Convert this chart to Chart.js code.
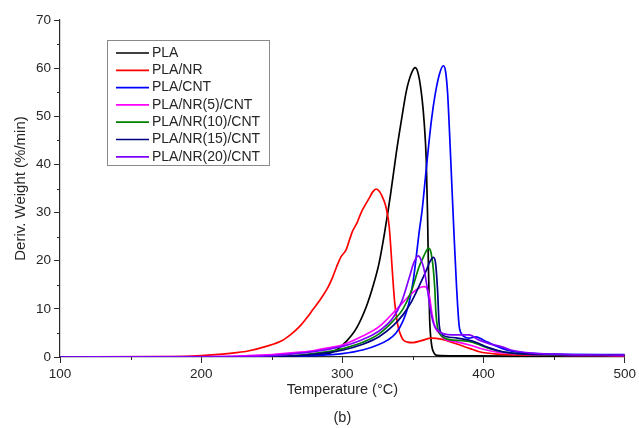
<!DOCTYPE html>
<html lang="en">
<head>
  <meta charset="UTF-8" />
  <title>DTG curves</title>
  <script src="https://cdn.jsdelivr.net/npm/chart.js"></script>
  <style>
    html, body {
      margin: 0;
      padding: 0;
      background: #ffffff;
    }
    #wrap {
      width: 639px;
      height: 428px;
    }
  </style>
</head>
<body>
  <div id="wrap">
    <canvas id="dtgChart" width="639" height="428"></canvas>
  </div>

  <script>
    // sample names, in legend order
    const seriesNames = ["PLA", "PLA/NR", "PLA/CNT", "PLA/NR(5)/CNT", "PLA/NR(10)/CNT", "PLA/NR(15)/CNT", "PLA/NR(20)/CNT"];
    const seriesColors = ["#000000", "#ff0000", "#0000ff", "#ff00ff", "#008000", "#000080", "#8000ff"];

    // axis ticks
    const xTicks = [100, 200, 300, 400, 500];
    const yTicks = [0, 10, 20, 30, 40, 50, 60, 70];

    // temperature (°C) and derivative weight (%/min) for each sample
    const tPLA = [100, 200, 250, 270, 282, 290, 296, 303, 310, 317, 322, 326, 330, 334, 338, 342, 345.5, 349, 351.6, 354, 356.5, 358, 359.4, 360.3, 361, 361.8, 363, 365, 367, 380, 420, 500];
    const dPLA = [0, 0.05, 0.1, 0.2, 0.35, 0.7, 1.5, 3.3, 6, 10.5, 15, 19.5, 26, 33.5, 42, 49.5, 55.5, 59, 60.1, 58.5, 53.5, 48.5, 41, 30, 18, 8, 3, 0.8, 0.35, 0.25, 0.2, 0.2];

    const tNR = [100, 180, 200, 215, 225, 234, 246, 257.8, 264, 269.6, 275, 279, 284, 289.5, 293, 296, 299, 302.7, 305, 307, 310.6, 313, 316, 319, 321.5, 324, 326.5, 329, 331, 333.2, 335.5, 337, 339, 341, 343, 346, 350, 356, 363, 370, 380, 390, 397, 410, 430, 500];
    const dNR = [0, 0.1, 0.3, 0.6, 0.9, 1.3, 2.2, 3.5, 4.8, 6.3, 8.2, 9.8, 11.8, 14.3, 16.5, 18.8, 20.8, 22.3, 24.3, 26, 28, 29.8, 31.5, 33, 34.3, 34.9, 34.3, 32.8, 31, 27, 17.4, 11.5, 7, 4.8, 3.6, 3.1, 3, 3.4, 3.9, 3.7, 2.8, 1.8, 1.1, 0.6, 0.4, 0.3];

    const tCNT = [100, 250, 280, 300, 315, 325, 332, 338, 343, 347, 350, 352, 354.4, 356.5, 359.4, 363, 366, 369, 371.4, 373, 374.5, 376, 377.5, 379, 380.8, 382.7, 384, 386, 389.8, 394.5, 400, 407, 413, 420, 430, 450, 500];
    const dCNT = [0, 0.05, 0.3, 0.7, 1.5, 2.5, 3.5, 5, 7.5, 11, 15.5, 20, 26, 30.5, 39, 49, 55, 59, 60.5, 59.5, 55, 46, 36, 26, 15, 6.5, 5, 4.3, 3.9, 4.2, 3.5, 2.5, 1.8, 1.2, 0.8, 0.6, 0.5];

    const tNR5 = [100, 200, 230, 250, 270, 281, 290, 300, 314, 326, 338, 345, 349.6, 354, 358, 360, 361.5, 363.8, 366, 368.5, 372, 380, 390, 400, 410, 425, 450, 500];
    const dNR5 = [0, 0.05, 0.25, 0.5, 1, 1.4, 1.9, 2.5, 4.3, 6.3, 9.8, 12, 13.3, 14.3, 14.6, 14.2, 12.9, 8.4, 6, 5, 3.8, 3.2, 2.5, 1.6, 1, 0.6, 0.4, 0.3];

    const tNR10 = [100, 230, 250, 270, 290, 300, 314, 326, 336, 343, 349, 354.4, 357, 359, 361, 362.3, 363.5, 364.5, 365.5, 366.3, 367.5, 369, 372, 376, 385, 392, 400, 410, 420, 440, 500];
    const dNR10 = [0, 0.05, 0.1, 0.4, 1.1, 1.7, 3, 4.8, 7.5, 10, 13.8, 18.8, 20.5, 21.8, 22.6, 22.2, 20.5, 18, 14, 9, 6, 4.8, 4, 3.6, 3.4, 3.1, 2.2, 1.3, 0.8, 0.5, 0.4];

    const tNR15 = [100, 230, 250, 270, 290, 300, 314, 326, 336, 343, 349, 354, 359.6, 362, 364.5, 366, 367.4, 368.5, 370, 374, 380, 388, 395, 403, 412, 425, 450, 500];
    const dNR15 = [0, 0.05, 0.1, 0.3, 0.9, 1.4, 2.6, 4.2, 6.5, 8.8, 11.5, 14.5, 18.1, 19.8, 20.7, 19.5, 14, 7, 5, 4.2, 4, 3.6, 3, 2, 1.2, 0.7, 0.5, 0.4];

    const tNR20 = [100, 230, 250, 270, 290, 300, 314, 326, 336, 342, 347.3, 350.5, 353.7, 356, 358, 360, 362, 364, 365.5, 368.5, 372, 377.8, 389.8, 396.8, 405, 413, 420, 435, 460, 500];
    const dNR20 = [0, 0.1, 0.3, 0.8, 1.6, 2.2, 3.6, 5.4, 8.2, 11.5, 16.4, 19.5, 21, 20, 18, 14.5, 10.5, 7.5, 6.3, 5.3, 4.8, 4.6, 4.6, 3.5, 2.7, 2.1, 1.4, 0.8, 0.5, 0.4];

    const temps = [tPLA, tNR, tCNT, tNR5, tNR10, tNR15, tNR20];
    const values = [dPLA, dNR, dCNT, dNR5, dNR10, dNR15, dNR20];

    const axisColor = "#2a2a2a";
    const textColor = "#262626";
    const fontFamily = "'Liberation Sans', Arial, sans-serif";

    // short ticks halfway between the labelled ones
    const minorTicks = {
      id: "minorTicks",
      afterDraw(chart) {
        const ctx = chart.ctx;
        const xs = chart.scales.x;
        const ys = chart.scales.y;
        ctx.save();
        ctx.strokeStyle = axisColor;
        ctx.lineWidth = 1;
        for (let i = 0; i < xTicks.length - 1; i++) {
          const px = Math.round(xs.getPixelForValue((xTicks[i] + xTicks[i + 1]) / 2)) + 0.5;
          ctx.beginPath();
          ctx.moveTo(px, xs.top);
          ctx.lineTo(px, xs.top + 3);
          ctx.stroke();
        }
        for (let i = 0; i < yTicks.length - 1; i++) {
          const py = Math.round(ys.getPixelForValue((yTicks[i] + yTicks[i + 1]) / 2)) + 0.5;
          ctx.beginPath();
          ctx.moveTo(ys.right, py);
          ctx.lineTo(ys.right - 3, py);
          ctx.stroke();
        }
        ctx.restore();
      }
    };

    // boxed legend in the upper left of the plot
    const boxLegend = {
      id: "boxLegend",
      afterDraw(chart) {
        const ctx = chart.ctx;
        const area = chart.chartArea;
        const x0 = area.left + 47;
        const y0 = area.top + 20;
        const w = 162;
        const h = 125;
        const rowH = 17.3;
        ctx.save();
        ctx.fillStyle = "#ffffff";
        ctx.fillRect(x0, y0, w, h);
        ctx.strokeStyle = "#8a8a8a";
        ctx.lineWidth = 1;
        ctx.strokeRect(x0 + 0.5, y0 + 0.5, w, h);
        ctx.font = "14px " + fontFamily;
        ctx.textBaseline = "middle";
        chart.data.datasets.forEach((ds, i) => {
          const cy = y0 + 13 + i * rowH;
          ctx.strokeStyle = ds.borderColor;
          ctx.lineWidth = 1.7;
          ctx.beginPath();
          ctx.moveTo(x0 + 9, cy);
          ctx.lineTo(x0 + 42, cy);
          ctx.stroke();
          ctx.fillStyle = textColor;
          ctx.fillText(ds.label, x0 + 45, cy);
        });
        ctx.restore();
      }
    };

    const datasets = seriesNames.map((name, i) => ({
      label: name,
      data: temps[i].map((t, j) => ({ x: t, y: values[i][j] })),
      borderColor: seriesColors[i],
      borderWidth: 1.7,
      pointRadius: 0,
      fill: false,
      cubicInterpolationMode: "monotone",
      order: seriesNames.length - i
    }));

    const ctx = document.getElementById("dtgChart").getContext("2d");
    const chart = new Chart(ctx, {
      type: "line",
      data: { datasets: datasets },
      options: {
        responsive: false,
        animation: false,
        layout: {
          padding: { left: 0, right: 13, top: 20, bottom: 0 }
        },
        plugins: {
          legend: { display: false },
          tooltip: { enabled: false }
        },
        scales: {
          x: {
            type: "linear",
            min: 100,
            max: 500,
            afterBuildTicks: (scale) => {
              scale.ticks = xTicks.map(v => ({ value: v }));
            },
            afterFit: (scale) => {
              scale.height = 71;
            },
            grid: {
              drawOnChartArea: false,
              tickLength: 6,
              color: axisColor
            },
            border: { color: axisColor, width: 1.2 },
            ticks: {
              color: textColor,
              padding: 3,
              maxRotation: 0,
              font: { family: fontFamily, size: 13.5 }
            },
            title: {
              display: true,
              text: ["Temperature (°C)", "(b)"],
              color: textColor,
              font: { family: fontFamily, size: 14.5, lineHeight: 1.93 },
              padding: { top: 0, bottom: -4 }
            }
          },
          y: {
            min: 0,
            max: 70,
            afterBuildTicks: (scale) => {
              scale.ticks = yTicks.map(v => ({ value: v }));
            },
            afterFit: (scale) => {
              scale.width = 60;
            },
            grid: {
              drawOnChartArea: false,
              tickLength: 6,
              color: axisColor
            },
            border: { color: axisColor, width: 1.2 },
            ticks: {
              color: textColor,
              padding: 3,
              font: { family: fontFamily, size: 13.5 }
            },
            title: {
              display: true,
              text: "Deriv. Weight (%/min)",
              color: textColor,
              font: { family: fontFamily, size: 15 },
              padding: { top: 11.5, bottom: 0 }
            }
          }
        }
      },
      plugins: [minorTicks, boxLegend]
    });
  </script>
</body>
</html>
